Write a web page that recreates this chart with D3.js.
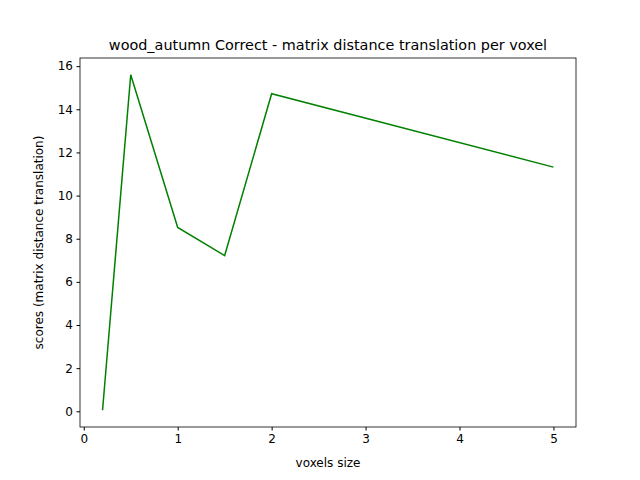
<!DOCTYPE html>
<html>
<head>
<meta charset="utf-8">
<script src="https://cdn.jsdelivr.net/npm/d3@7"></script>
<style>
  body { margin: 0; background: #fff; }
  text { font-family: "DejaVu Sans", sans-serif; }
</style>
</head>
<body>
<div id="chart"></div>
<script>
// values
var voxelSizes = [0.2, 0.5, 1, 1.5, 2, 5];
var scores = [0.05, 15.6, 8.52, 7.22, 14.72, 11.32];
var xTicks = [0, 1, 2, 3, 4, 5];
var yTicks = [0, 2, 4, 6, 8, 10, 12, 14, 16];

var w = 640, h = 480;
var margin = {top: 58, right: 64, bottom: 53, left: 80};

var svg = d3.select('#chart')
  .append('svg')
  .attr('width', w)
  .attr('height', h);

// matplotlib style 5% padding on both axes
var xMin = d3.min(voxelSizes), xMax = d3.max(voxelSizes);
var yMin = d3.min(scores), yMax = d3.max(scores);
var xPad = (xMax - xMin) * 0.05, yPad = (yMax - yMin) * 0.05;

var x = d3.scaleLinear()
  .domain([xMin - xPad, xMax + xPad])
  .range([margin.left, w - margin.right]);
var y = d3.scaleLinear()
  .domain([yMin - yPad, yMax + yPad])
  .range([h - margin.bottom, margin.top]);

var line = d3.line()
  .x(function (d, i) { return x(voxelSizes[i]); })
  .y(function (d) { return y(d); });

svg.append('path')
  .datum(scores)
  .attr('d', line)
  .attr('fill', 'none')
  .attr('stroke', 'green')
  .attr('stroke-width', 1.5);

var xAxis = svg.append('g')
  .attr('transform', 'translate(0,' + (h - margin.bottom) + ')')
  .call(d3.axisBottom(x).tickValues(xTicks).tickFormat(d3.format('d')).tickSize(3.5).tickPadding(3.5));
var yAxis = svg.append('g')
  .attr('transform', 'translate(' + margin.left + ',0)')
  .call(d3.axisLeft(y).tickValues(yTicks).tickFormat(d3.format('d')).tickSize(3.5).tickPadding(3.5));

[xAxis, yAxis].forEach(function (g) {
  g.select('.domain').remove();
  g.selectAll('text').style('font-size', '12px').attr('fill', '#000');
  g.selectAll('line').attr('stroke', '#000');
});

// frame
svg.append('rect')
  .attr('x', margin.left)
  .attr('y', margin.top)
  .attr('width', w - margin.left - margin.right)
  .attr('height', h - margin.top - margin.bottom)
  .attr('fill', 'none')
  .attr('stroke', '#000')
  .attr('stroke-width', 0.8);

svg.append('text')
  .attr('x', (margin.left + w - margin.right) / 2)
  .attr('y', margin.top - 8)
  .attr('text-anchor', 'middle')
  .style('font-size', '14.4px')
  .text('wood_autumn Correct - matrix distance translation per voxel');

svg.append('text')
  .attr('x', (margin.left + w - margin.right) / 2)
  .attr('y', 467)
  .attr('text-anchor', 'middle')
  .style('font-size', '12px')
  .text('voxels size');

svg.append('text')
  .attr('transform', 'translate(43,' + ((margin.top + h - margin.bottom) / 2) + ') rotate(-90)')
  .attr('text-anchor', 'middle')
  .style('font-size', '12px')
  .text('scores (matrix distance translation)');
</script>
</body>
</html>
